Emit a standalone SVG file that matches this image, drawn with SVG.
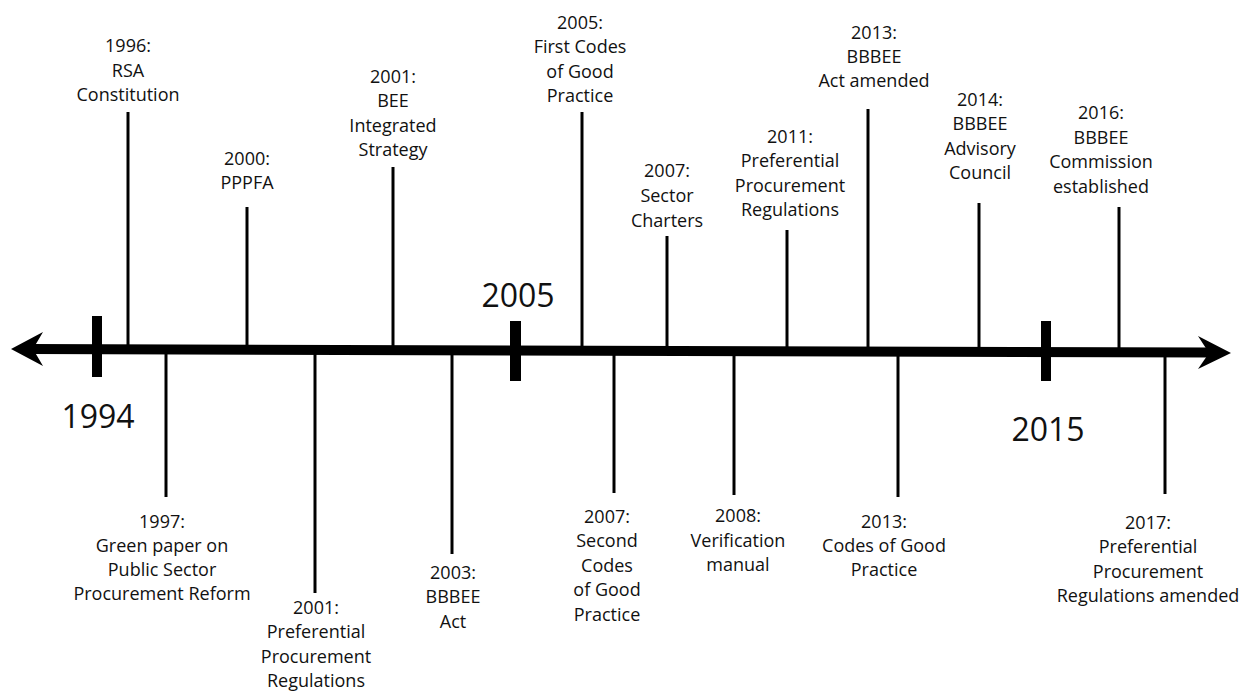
<svg xmlns="http://www.w3.org/2000/svg" width="1246" height="692" viewBox="0 0 1246 692">
<style>
.lbl{font-family:"Open Sans","Noto Sans","Liberation Sans",sans-serif;font-size:18px;fill:#111;text-anchor:middle}
.yr{font-family:"Open Sans","Noto Sans","Liberation Sans",sans-serif;font-size:32px;fill:#111;text-anchor:middle}
.stem{stroke:#000;stroke-width:3;fill:none}
.tick{fill:#000}
</style>
<rect width="1246" height="692" fill="#fff"/>
<g id="connectors">
<line x1="30" y1="349" x2="1212" y2="352.5" stroke="#000" stroke-width="10"/>
<polygon points="11,349 43,332 33,349 43,366" fill="#000"/>
<polygon points="1231,353 1198,336 1209,353 1198,369" fill="#000"/>
<line class="stem" x1="128" y1="112" x2="128" y2="350"/>
<line class="stem" x1="247" y1="207" x2="247" y2="350"/>
<line class="stem" x1="393" y1="167" x2="393" y2="350"/>
<line class="stem" x1="582" y1="112" x2="582" y2="350"/>
<line class="stem" x1="667" y1="236" x2="667" y2="350"/>
<line class="stem" x1="787" y1="230" x2="787" y2="350"/>
<line class="stem" x1="868" y1="109" x2="868" y2="350"/>
<line class="stem" x1="979" y1="203" x2="979" y2="350"/>
<line class="stem" x1="1119" y1="207" x2="1119" y2="350"/>
<line class="stem" x1="166" y1="350" x2="166" y2="497"/>
<line class="stem" x1="315" y1="350" x2="315" y2="593"/>
<line class="stem" x1="452" y1="350" x2="452" y2="554"/>
<line class="stem" x1="614" y1="350" x2="614" y2="493"/>
<line class="stem" x1="734" y1="350" x2="734" y2="495"/>
<line class="stem" x1="898" y1="350" x2="898" y2="497"/>
<line class="stem" x1="1165" y1="350" x2="1165" y2="494"/>
</g>
<g id="y1994"><rect class="tick" x="92" y="316" width="10" height="61"/><text class="yr" x="98" y="428">1994</text></g>
<g id="y2005"><rect class="tick" x="510" y="321" width="11" height="60"/><text class="yr" x="518" y="307">2005</text></g>
<g id="y2015"><rect class="tick" x="1041" y="321" width="10" height="60"/><text class="yr" x="1048" y="441">2015</text></g>
<g id="e1996"><text class="lbl"><tspan x="128" y="52">1996:</tspan><tspan x="128" y="76.5">RSA</tspan><tspan x="128" y="101">Constitution</tspan></text></g>
<g id="e2000"><text class="lbl"><tspan x="247" y="165">2000:</tspan><tspan x="247" y="189">PPPFA</tspan></text></g>
<g id="e2001a"><text class="lbl"><tspan x="393" y="83">2001:</tspan><tspan x="393" y="107">BEE</tspan><tspan x="393" y="132">Integrated</tspan><tspan x="393" y="156">Strategy</tspan></text></g>
<g id="e2005"><text class="lbl"><tspan x="580" y="29">2005:</tspan><tspan x="580" y="53">First Codes</tspan><tspan x="580" y="78">of Good</tspan><tspan x="580" y="102">Practice</tspan></text></g>
<g id="e2007a"><text class="lbl"><tspan x="667" y="177">2007:</tspan><tspan x="667" y="202">Sector</tspan><tspan x="667" y="227">Charters</tspan></text></g>
<g id="e2011"><text class="lbl"><tspan x="790" y="143">2011:</tspan><tspan x="790" y="167">Preferential</tspan><tspan x="790" y="192">Procurement</tspan><tspan x="790" y="216">Regulations</tspan></text></g>
<g id="e2013a"><text class="lbl"><tspan x="874" y="39">2013:</tspan><tspan x="874" y="63">BBBEE</tspan><tspan x="874" y="87">Act amended</tspan></text></g>
<g id="e2014"><text class="lbl"><tspan x="980" y="106">2014:</tspan><tspan x="980" y="130">BBBEE</tspan><tspan x="980" y="155">Advisory</tspan><tspan x="980" y="179">Council</tspan></text></g>
<g id="e2016"><text class="lbl"><tspan x="1101" y="119">2016:</tspan><tspan x="1101" y="144">BBBEE</tspan><tspan x="1101" y="168">Commission</tspan><tspan x="1101" y="193">established</tspan></text></g>
<g id="e1997"><text class="lbl"><tspan x="162" y="528">1997:</tspan><tspan x="162" y="552">Green paper on</tspan><tspan x="162" y="576">Public Sector</tspan><tspan x="162" y="600">Procurement Reform</tspan></text></g>
<g id="e2001b"><text class="lbl"><tspan x="316" y="614">2001:</tspan><tspan x="316" y="638">Preferential</tspan><tspan x="316" y="663">Procurement</tspan><tspan x="316" y="687">Regulations</tspan></text></g>
<g id="e2003"><text class="lbl"><tspan x="453" y="579">2003:</tspan><tspan x="453" y="603">BBBEE</tspan><tspan x="453" y="628">Act</tspan></text></g>
<g id="e2007b"><text class="lbl"><tspan x="607" y="523">2007:</tspan><tspan x="607" y="547">Second</tspan><tspan x="607" y="572">Codes</tspan><tspan x="607" y="596">of Good</tspan><tspan x="607" y="621">Practice</tspan></text></g>
<g id="e2008"><text class="lbl"><tspan x="738" y="522">2008:</tspan><tspan x="738" y="547">Verification</tspan><tspan x="738" y="571">manual</tspan></text></g>
<g id="e2013b"><text class="lbl"><tspan x="884" y="528">2013:</tspan><tspan x="884" y="552">Codes of Good</tspan><tspan x="884" y="576">Practice</tspan></text></g>
<g id="e2017"><text class="lbl"><tspan x="1148" y="529">2017:</tspan><tspan x="1148" y="553">Preferential</tspan><tspan x="1148" y="578">Procurement</tspan><tspan x="1148" y="602">Regulations amended</tspan></text></g>
</svg>
